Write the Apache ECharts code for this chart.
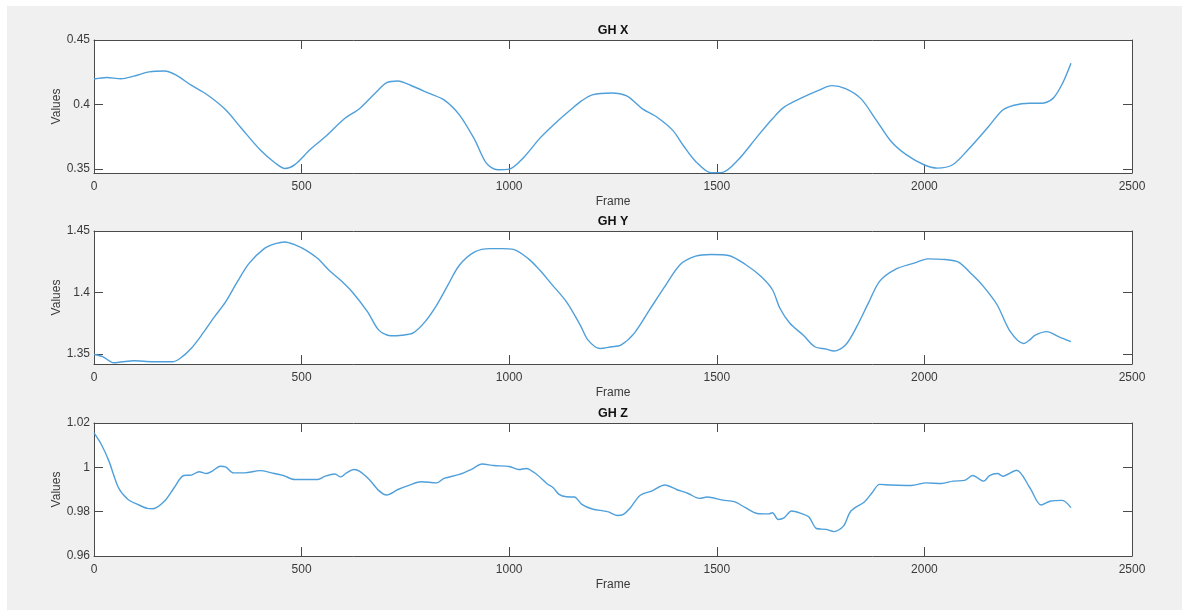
<!DOCTYPE html>
<html>
<head>
<meta charset="utf-8">
<script src="https://cdn.jsdelivr.net/npm/echarts@6/dist/echarts.min.js"></script>
<style>
html,body{margin:0;padding:0;background:#ffffff;}
#chart{width:1182px;height:610px;}
</style>
</head>
<body>
<div id="chart"></div>
<script>
// ---- Data ----
const titles = ['GH X', 'GH Y', 'GH Z'];
const xTicks = [0, 500, 1000, 1500, 2000, 2500];

const ghxFrames = [0,31,65,96,133,170,197,234,271,317,354,400,437,460,483,520,557,603,640,677,705,732,769,806,843,880,917,945,972,1000,1037,1074,1111,1148,1175,1200,1246,1283,1320,1357,1394,1421,1449,1486,1514,1551,1597,1634,1662,1708,1745,1777,1810,1847,1884,1920,1957,1999,2031,2068,2105,2152,2188,2216,2253,2281,2309,2332,2353];
const ghxValues = [0.4198,0.421,0.420,0.422,0.4253,0.426,0.423,0.415,0.408,0.396,0.382,0.365,0.3546,0.3505,0.3533,0.365,0.375,0.389,0.397,0.4088,0.417,0.4183,0.414,0.4088,0.4036,0.392,0.3727,0.3546,0.3495,0.350,0.3598,0.374,0.3856,0.396,0.403,0.4075,0.409,0.4067,0.3969,0.390,0.380,0.3675,0.356,0.3472,0.3475,0.357,0.375,0.389,0.398,0.4057,0.411,0.4147,0.4124,0.4046,0.388,0.3714,0.361,0.3534,0.3508,0.3534,0.365,0.382,0.3956,0.3995,0.401,0.401,0.4046,0.416,0.432];
const ghxTicks = [0.35, 0.4, 0.45];

const ghyFrames = [0,22,47,68,96,142,188,207,234,262,290,317,345,373,410,437,460,483,511,539,566,594,622,659,686,714,742,769,797,825,852,880,917,954,982,1010,1046,1074,1101,1138,1172,1190,1218,1246,1269,1301,1338,1375,1412,1449,1486,1528,1569,1606,1634,1652,1676,1708,1736,1763,1782,1810,1837,1865,1892,1929,1977,2008,2050,2082,2115,2142,2175,2207,2239,2253,2267,2295,2323,2353];
const ghyValues = [1.3497,1.3478,1.343,1.3438,1.3446,1.3438,1.3438,1.3465,1.3546,1.3668,1.3803,1.3924,1.4086,1.4235,1.4357,1.4397,1.4411,1.4389,1.4343,1.4276,1.4181,1.410,1.4005,1.3843,1.3695,1.3649,1.3654,1.3673,1.3762,1.3897,1.4059,1.4222,1.433,1.4357,1.4357,1.4351,1.4276,1.4181,1.4073,1.3924,1.373,1.3614,1.3546,1.356,1.3574,1.3669,1.386,1.405,1.4228,1.4296,1.4309,1.4301,1.4228,1.4132,1.4023,1.3873,1.3751,1.3655,1.356,1.3541,1.3525,1.3574,1.3723,1.3914,1.4091,1.4187,1.4241,1.4274,1.4268,1.4247,1.4146,1.405,1.3901,1.3683,1.3587,1.3614,1.3655,1.3683,1.3642,1.3601];
const ghyTicks = [1.35, 1.4, 1.45];

const ghzFrames = [0,18,36,59,82,105,128,142,170,193,216,234,253,271,285,304,317,336,363,400,428,456,483,511,539,557,580,594,608,626,640,663,686,705,732,760,788,825,843,880,908,935,963,1000,1023,1041,1065,1092,1106,1120,1138,1157,1175,1200,1237,1260,1274,1292,1315,1343,1375,1403,1431,1458,1477,1514,1542,1569,1597,1625,1634,1648,1662,1680,1703,1722,1740,1763,1782,1805,1823,1856,1874,1892,1920,1968,2005,2041,2069,2097,2116,2143,2157,2176,2189,2222,2254,2281,2304,2332,2353];
const ghzValues = [1.0155,1.0102,1.0028,0.9908,0.9855,0.9833,0.9815,0.9813,0.9848,0.9908,0.9963,0.9965,0.998,0.9972,0.9983,1.0005,1.0002,0.9975,0.9975,0.9985,0.9975,0.9963,0.9945,0.9945,0.9945,0.996,0.997,0.9957,0.9975,0.999,0.9982,0.9945,0.9895,0.9875,0.990,0.992,0.9935,0.993,0.995,0.9968,0.999,1.0015,1.0008,1.0004,0.999,0.9995,0.997,0.9925,0.9908,0.9878,0.9867,0.9866,0.9833,0.9812,0.980,0.9783,0.9787,0.9818,0.9873,0.9893,0.992,0.990,0.9882,0.986,0.9866,0.9852,0.9845,0.9818,0.9792,0.979,0.9795,0.9765,0.9772,0.9803,0.9792,0.9776,0.9724,0.972,0.971,0.9735,0.9803,0.9845,0.9885,0.9923,0.992,0.9918,0.993,0.9927,0.9938,0.9941,0.9963,0.9938,0.9963,0.9972,0.996,0.9987,0.9908,0.983,0.9848,0.9851,0.9818];
const ghzTicks = [0.96, 0.98, 1, 1.02];

const yRanges = [[0.347, 0.45], [1.342, 1.45], [0.96, 1.02]];

// ---- Layout ----
const gridLeft = 94, gridRight = 50, gridHeight = 133;
const gridTops = [40, 231, 423];
const frameColor = '#4a4a4a';
const textColor = '#3a3a3a';
const lineColor = '#4f9fdb';
const font = 'Liberation Sans, Arial, Helvetica, sans-serif';

const frames = [ghxFrames, ghyFrames, ghzFrames];
const values = [ghxValues, ghyValues, ghzValues];
const yTicks = [ghxTicks, ghyTicks, ghzTicks];
const plain = v => String(v);

const grids = [], xAxes = [], yAxes = [], series = [], titleList = [];
for (let i = 0; i < 3; i++) {
  grids.push({left: gridLeft, right: gridRight, top: gridTops[i], height: gridHeight, show: true, backgroundColor: '#ffffff', borderWidth: 0});
  const xBase = {
    type: 'value', gridIndex: i, min: 0, max: 2500, interval: 500,
    axisLine: {show: true, onZero: false, lineStyle: {color: frameColor, width: 1}},
    axisTick: {show: true, inside: true, length: 9, lineStyle: {color: frameColor}},
    splitLine: {show: false}
  };
  xAxes.push(Object.assign({}, xBase, {
    position: 'bottom',
    axisLabel: {show: true, margin: 8, color: textColor, fontSize: 12, fontFamily: font, customValues: xTicks, formatter: plain},
    name: 'Frame', nameLocation: 'middle', nameGap: 23, nameMoveOverlap: false,
    nameTextStyle: {color: textColor, fontSize: 12, fontFamily: font}
  }));
  xAxes.push(Object.assign({}, xBase, {position: 'top', axisLabel: {show: false}}));
  const yBase = {
    type: 'value', gridIndex: i, min: yRanges[i][0], max: yRanges[i][1],
    axisLine: {show: true, onZero: false, lineStyle: {color: frameColor, width: 1}},
    axisTick: {show: true, inside: true, length: 9, lineStyle: {color: frameColor}, customValues: yTicks[i]},
    splitLine: {show: false}
  };
  yAxes.push(Object.assign({}, yBase, {
    position: 'left',
    axisLabel: {show: true, margin: 4, color: textColor, fontSize: 12, fontFamily: font, customValues: yTicks[i], formatter: plain},
    name: 'Values', nameLocation: 'middle', nameGap: 31, nameMoveOverlap: false,
    nameTextStyle: {color: textColor, fontSize: 12, fontFamily: font}
  }));
  yAxes.push(Object.assign({}, yBase, {position: 'right', axisLabel: {show: false}}));
  series.push({
    type: 'line', xAxisIndex: i * 2, yAxisIndex: i * 2,
    data: frames[i].map((f, k) => [f, values[i][k]]),
    showSymbol: false, smooth: 0.3,
    lineStyle: {color: lineColor, width: 1.4},
    clip: true, animation: false
  });
  titleList.push({
    text: titles[i], left: 613, top: gridTops[i] - 16, textAlign: 'center', padding: 0,
    textStyle: {color: '#111', fontSize: 12.5, fontWeight: 'bold', fontFamily: font}
  });
}

const chart = echarts.init(document.getElementById('chart'), null, {renderer: 'canvas'});
chart.setOption({
  animation: false,
  backgroundColor: '#ffffff',
  graphic: [{type: 'rect', z: -10, silent: true, shape: {x: 7, y: 6, width: 1175, height: 604}, style: {fill: '#f0f0f0'}}],
  title: titleList,
  grid: grids,
  xAxis: xAxes,
  yAxis: yAxes,
  series: series
});
</script>
</body>
</html>
